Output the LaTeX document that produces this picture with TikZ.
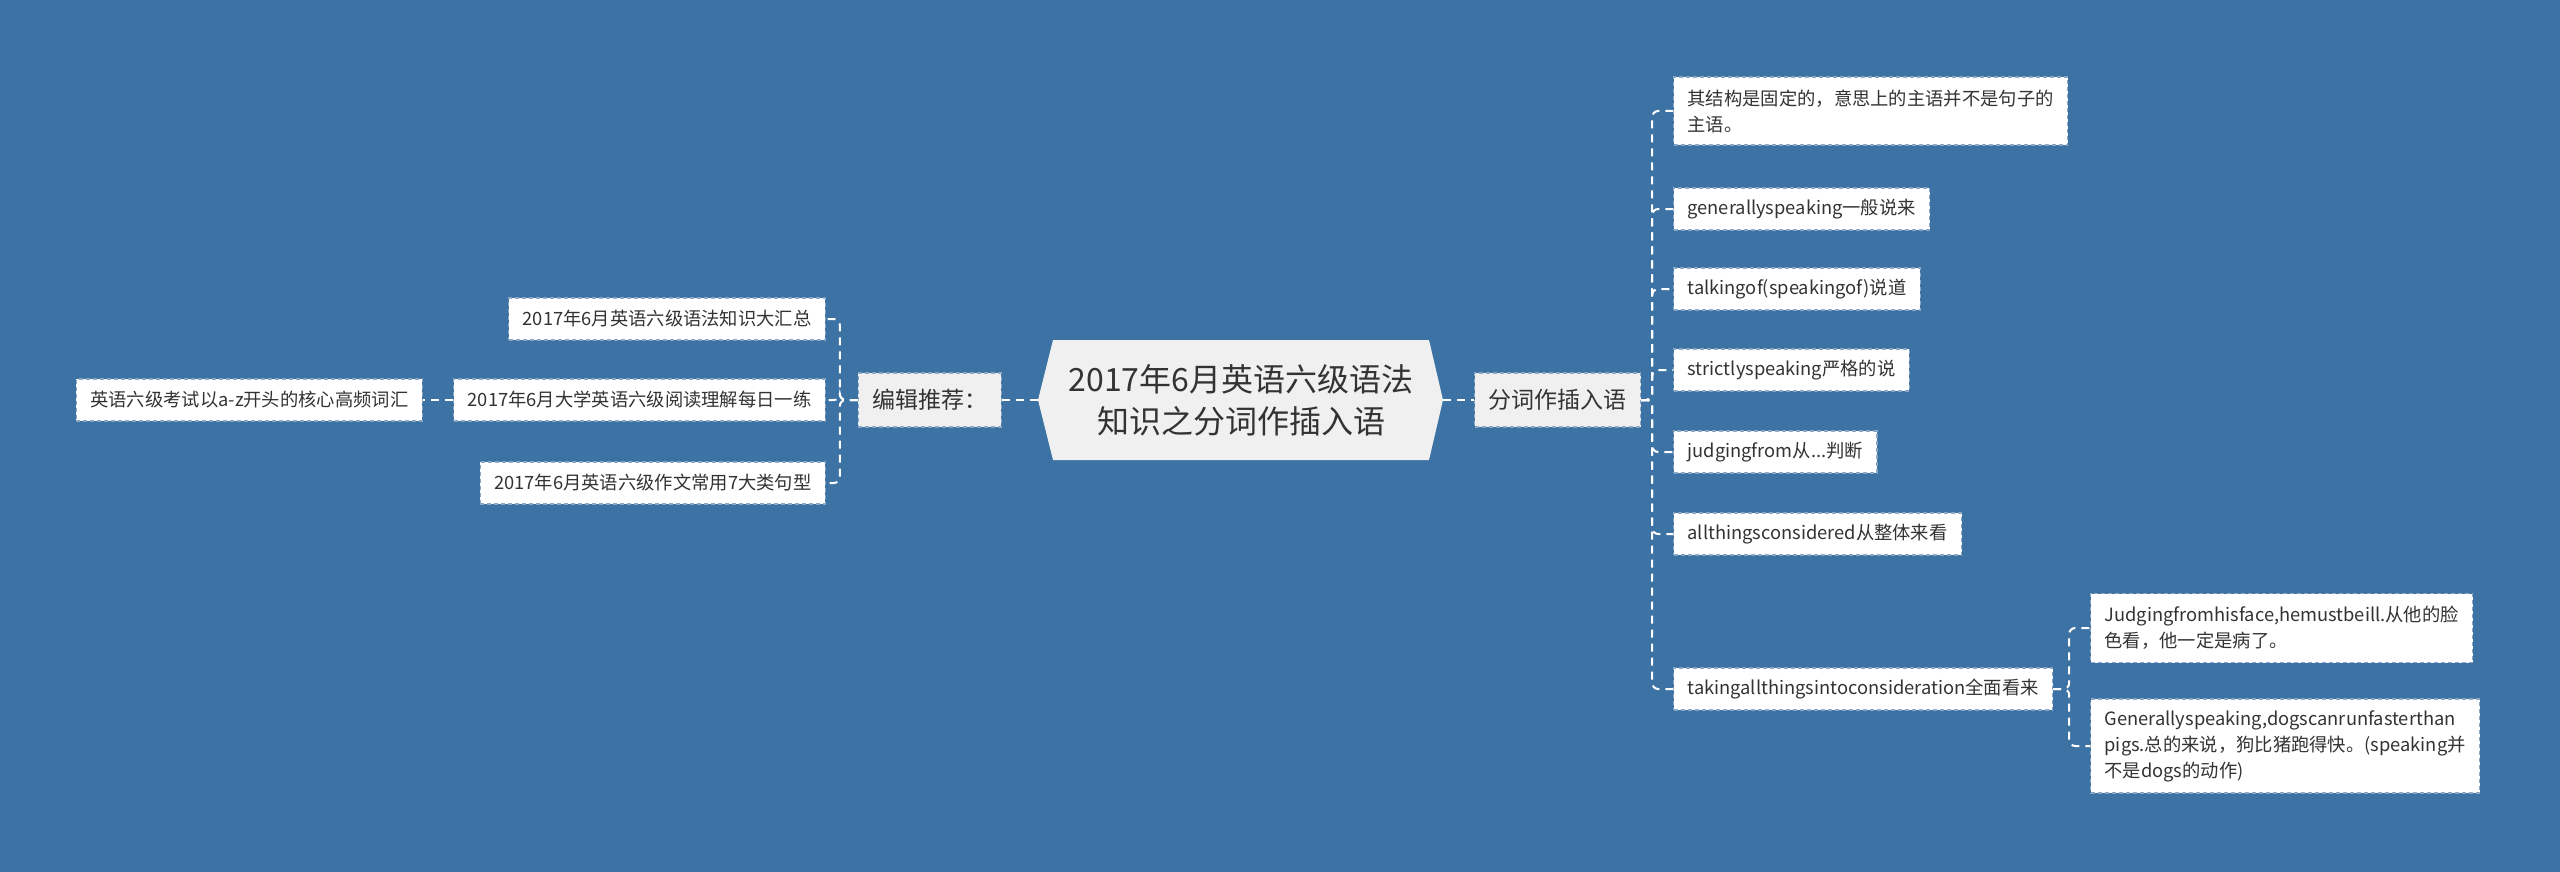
\documentclass[tikz,border=0pt]{standalone}
\usepackage{fontspec}
\setmainfont{Noto Sans CJK SC}
\usetikzlibrary{calc}
\definecolor{bg}{HTML}{3D72A4}
\definecolor{txt}{HTML}{333333}
\definecolor{gfill}{HTML}{F0F0F0}
\definecolor{bord}{HTML}{8AA8C6}
\begin{document}
\begin{tikzpicture}[x=0.5pt,y=-0.5pt,
 leaf/.style={draw=bord, dash pattern=on 2pt off 1.5pt, line width=0.6pt, fill=white, text=txt,
   font=\fontsize{9.15}{13}\selectfont, inner xsep=7pt, inner ysep=3pt, minimum height=21pt, align=left},
 mid/.style={leaf, fill=gfill, font=\fontsize{11.5}{14}\selectfont, minimum height=27pt},
 conn/.style={draw=white, line width=1pt, dash pattern=on 4pt off 3pt, rounded corners=3pt}]
\fill[bg] (0,0) rectangle (2560,872);
\useasboundingbox (0,0) rectangle (2560,872);

% central hexagon
\fill[gfill] (1038,400) -- (1053,340) -- (1429,340) -- (1443,400) -- (1429,460) -- (1053,460) -- cycle;
\node[text=txt, font=\fontsize{16}{21}\selectfont, align=center] (c) at (1241,400) {2017年6月英语六级语法\\知识之分词作插入语};
\coordinate (cl) at (1038,400);
\coordinate (cr) at (1443,400);

% second level
\node[mid, anchor=west] (fc) at (1474,400) {分词作插入语};
\node[mid, anchor=east] (ed) at (1002,400) {编辑推荐：};

% right children
\node[leaf, anchor=west, minimum height=34pt] (r1) at (1673,111) {其结构是固定的，意思上的主语并不是句子的\\主语。};
\node[leaf, anchor=west] (r2) at (1673,209) {generallyspeaking一般说来};
\node[leaf, anchor=west] (r3) at (1673,289) {talkingof(speakingof)说道};
\node[leaf, anchor=west] (r4) at (1673,370) {strictlyspeaking严格的说};
\node[leaf, anchor=west] (r5) at (1673,452) {judgingfrom从...判断};
\node[leaf, anchor=west] (r6) at (1673,534) {allthingsconsidered从整体来看};
\node[leaf, anchor=west] (r7) at (1673,689) {takingallthingsintoconsideration全面看来};

\node[leaf, anchor=west, minimum height=34.5pt] (s1) at (2090,628) {Judgingfromhisface,hemustbeill.从他的脸\\色看，他一定是病了。};
\node[leaf, anchor=west, minimum height=47pt] (s2) at (2090,746) {Generallyspeaking,dogscanrunfasterthan\\pigs.总的来说，狗比猪跑得快。(speaking并\\不是dogs的动作)};

% left children
\node[leaf, anchor=east] (l1) at (826,319) {2017年6月英语六级语法知识大汇总};
\node[leaf, anchor=east] (l2) at (826,400) {2017年6月大学英语六级阅读理解每日一练};
\node[leaf, anchor=east] (l3) at (826,483) {2017年6月英语六级作文常用7大类句型};
\node[leaf, anchor=east] (l2a) at (423,400) {英语六级考试以a-z开头的核心高频词汇};

% connectors
\draw[conn] (cr) -- (fc.west);
\draw[conn] (cl) -- (ed.east);
\foreach \n in {r1,r2,r3,r4,r5,r6,r7}
  \draw[conn] (fc.east) -- ++(11,0) |- (\n.west);
\foreach \n in {s1,s2}
  \draw[conn] (r7.east) -- ++(16,0) |- (\n.west);
\foreach \n in {l1,l2,l3}
  \draw[conn] (ed.west) -- ++(-18,0) |- (\n.east);
\draw[conn] (l2.west) -- (l2a.east);
\end{tikzpicture}
\end{document}
